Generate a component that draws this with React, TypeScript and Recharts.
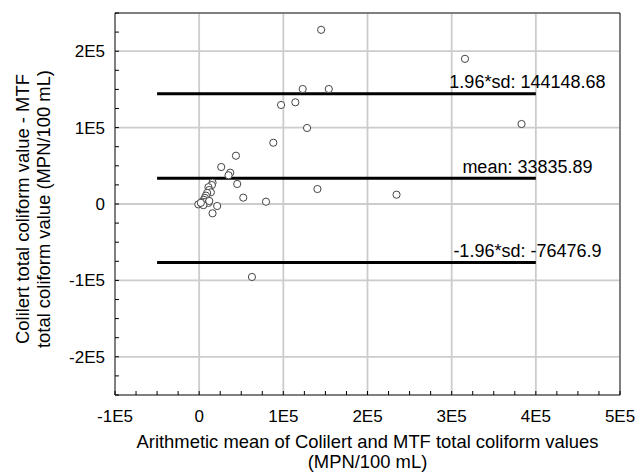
import {
  ScatterChart,
  Scatter,
  XAxis,
  YAxis,
  ReferenceLine,
} from "recharts";

// mean of Colilert and MTF (x) vs difference Colilert - MTF (y), MPN/100 mL
const meanValues = [
  144900, 315800, 123000, 154000, 97300, 114300, 128200, 383000, 140500, 234500,
  88100, 43700, 26200, 36900, 34900, 45200, 52400, 79400, 21400, 15900, 62700,
  15900, 15100, 11000, 11900, 13900, 9500, 8000, 6800, 5500, 3500, 1500, -1000,
  3000, 7500, 11000, 5000, 12000, 2000,
];
const differences = [
  228000, 190000, 150500, 150500, 129600, 133100, 99500, 104700, 19600, 12200,
  80200, 63200, 48400, 41000, 37600, 26200, 8300, 3000, -2600, -12200, -95500,
  27900, 24800, 22000, 18300, 15300, 14500, 11000, 8000, 5500, 3000, 500, -500,
  0, 2500, 1500, -1500, 4000, 1500,
];

const meanDiff = 33835.89;
const upperLimit = 144148.68;
const lowerLimit = -76476.9;
const limitLabels = ["1.96*sd: 144148.68", "mean: 33835.89", "-1.96*sd: -76476.9"];
const limitValues = [upperLimit, meanDiff, lowerLimit];
const lineStart = -50000;
const lineEnd = 400000;

const xDomain = [-100000, 500000];
const yDomain = [-250000, 250000];
const xGrid = [0, 100000, 200000, 300000, 400000];
const yGrid = [-200000, -100000, 0, 100000, 200000];
const xMinor = Array.from({ length: 25 }, (_, i) => -100000 + i * 25000);
const yMinor = Array.from({ length: 21 }, (_, i) => -250000 + i * 25000);

const points = meanValues.map((x, i) => ({ x, y: differences[i] }));

const FONT = '"Liberation Sans", Arial, sans-serif';
const GRID = "#cccccc";

function fmt(v: number) {
  if (v === 0) return "0";
  return `${v / 100000}E5`;
}

function XTick(props: any) {
  const { x, y, payload } = props;
  if (payload.value % 100000 !== 0) return null;
  return (
    <text x={x} y={y + 31} textAnchor="middle" fontSize={17} fontFamily={FONT} fill="#000">
      {fmt(payload.value)}
    </text>
  );
}

function YTick(props: any) {
  const { x, y, payload } = props;
  if (payload.value % 100000 !== 0) return null;
  return (
    <text x={x - 14} y={y + 6} textAnchor="end" fontSize={17} fontFamily={FONT} fill="#000">
      {fmt(payload.value)}
    </text>
  );
}

function limitLabel(text: string) {
  return (props: any) => {
    const vb = props.viewBox;
    return (
      <text
        x={vb.x + vb.width - 8.4}
        y={vb.y - 5.6}
        textAnchor="middle"
        fontSize={18}
        fontFamily={FONT}
        fill="#000"
      >
        {text}
      </text>
    );
  };
}

const emptyLabel = () => <g />;

export default function App() {
  return (
    <div style={{ position: "absolute", left: 0, top: 0, width: 640, height: 473, background: "#fff" }}>
      <ScatterChart width={640} height={473} margin={{ top: 12, right: 19, left: 55, bottom: 38 }}>
        <XAxis
          type="number"
          dataKey="x"
          domain={xDomain}
          ticks={xMinor}
          interval={0}
          height={40}
          tickSize={-4}
          tickMargin={0}
          tick={<XTick />}
          axisLine={{ stroke: "#000" }}
          tickLine={{ stroke: "#000" }}
          allowDataOverflow
        />
        <XAxis
          xAxisId="t"
          orientation="top"
          type="number"
          domain={xDomain}
          ticks={xMinor}
          interval={0}
          height={1}
          tickSize={-4}
          tick={false}
          axisLine={{ stroke: "#000" }}
          tickLine={{ stroke: "#000" }}
          allowDataOverflow
        />
        <YAxis
          type="number"
          dataKey="y"
          domain={yDomain}
          ticks={yMinor}
          interval={0}
          width={60}
          tickSize={-4}
          tickMargin={0}
          tick={<YTick />}
          axisLine={{ stroke: "#000" }}
          tickLine={{ stroke: "#000" }}
          allowDataOverflow
        />
        <YAxis
          yAxisId="r"
          orientation="right"
          type="number"
          domain={yDomain}
          ticks={yMinor}
          interval={0}
          width={1}
          tickSize={-4}
          tick={false}
          axisLine={{ stroke: "#000" }}
          tickLine={{ stroke: "#000" }}
          allowDataOverflow
        />
        {xGrid.map((v) => (
          <ReferenceLine
            key={`gx${v}`}
            segment={[
              { x: v, y: -249000 },
              { x: v, y: 249000 },
            ]}
            stroke={GRID}
            strokeWidth={1.8}
            label={emptyLabel}
          />
        ))}
        {yGrid.map((v) => (
          <ReferenceLine
            key={`gy${v}`}
            segment={[
              { x: -99000, y: v },
              { x: 499000, y: v },
            ]}
            stroke={GRID}
            strokeWidth={1.8}
            label={emptyLabel}
          />
        ))}
        {limitValues.map((v, i) => (
          <ReferenceLine
            key={i}
            segment={[
              { x: lineStart, y: v },
              { x: lineEnd, y: v },
            ]}
            stroke="#000"
            strokeWidth={3}
            label={limitLabel(limitLabels[i])}
          />
        ))}
        <Scatter
          data={points}
          isAnimationActive={false}
          shape={(p: any) => (
            <circle cx={p.cx} cy={p.cy} r={3.6} fill="#fff" stroke="#444" strokeWidth={1} />
          )}
        />
      </ScatterChart>
      <div
        style={{
          position: "absolute",
          left: 115,
          width: 505,
          top: 432,
          textAlign: "center",
          fontFamily: FONT,
          fontSize: 18.4,
          lineHeight: "20px",
          color: "#000",
        }}
      >
        Arithmetic mean of Colilert and MTF total coliform values
        <br />
        (MPN/100 mL)
      </div>
      <div
        style={{
          position: "absolute",
          left: 34 - 200,
          top: 209 - 22,
          width: 400,
          height: 44,
          transform: "rotate(-90deg)",
          transformOrigin: "center",
          textAlign: "center",
          fontFamily: FONT,
          fontSize: 18.4,
          lineHeight: "21px",
          color: "#000",
        }}
      >
        Colilert total coliform value - MTF
        <br />
        total coliform value (MPN/100 mL)
      </div>
    </div>
  );
}
